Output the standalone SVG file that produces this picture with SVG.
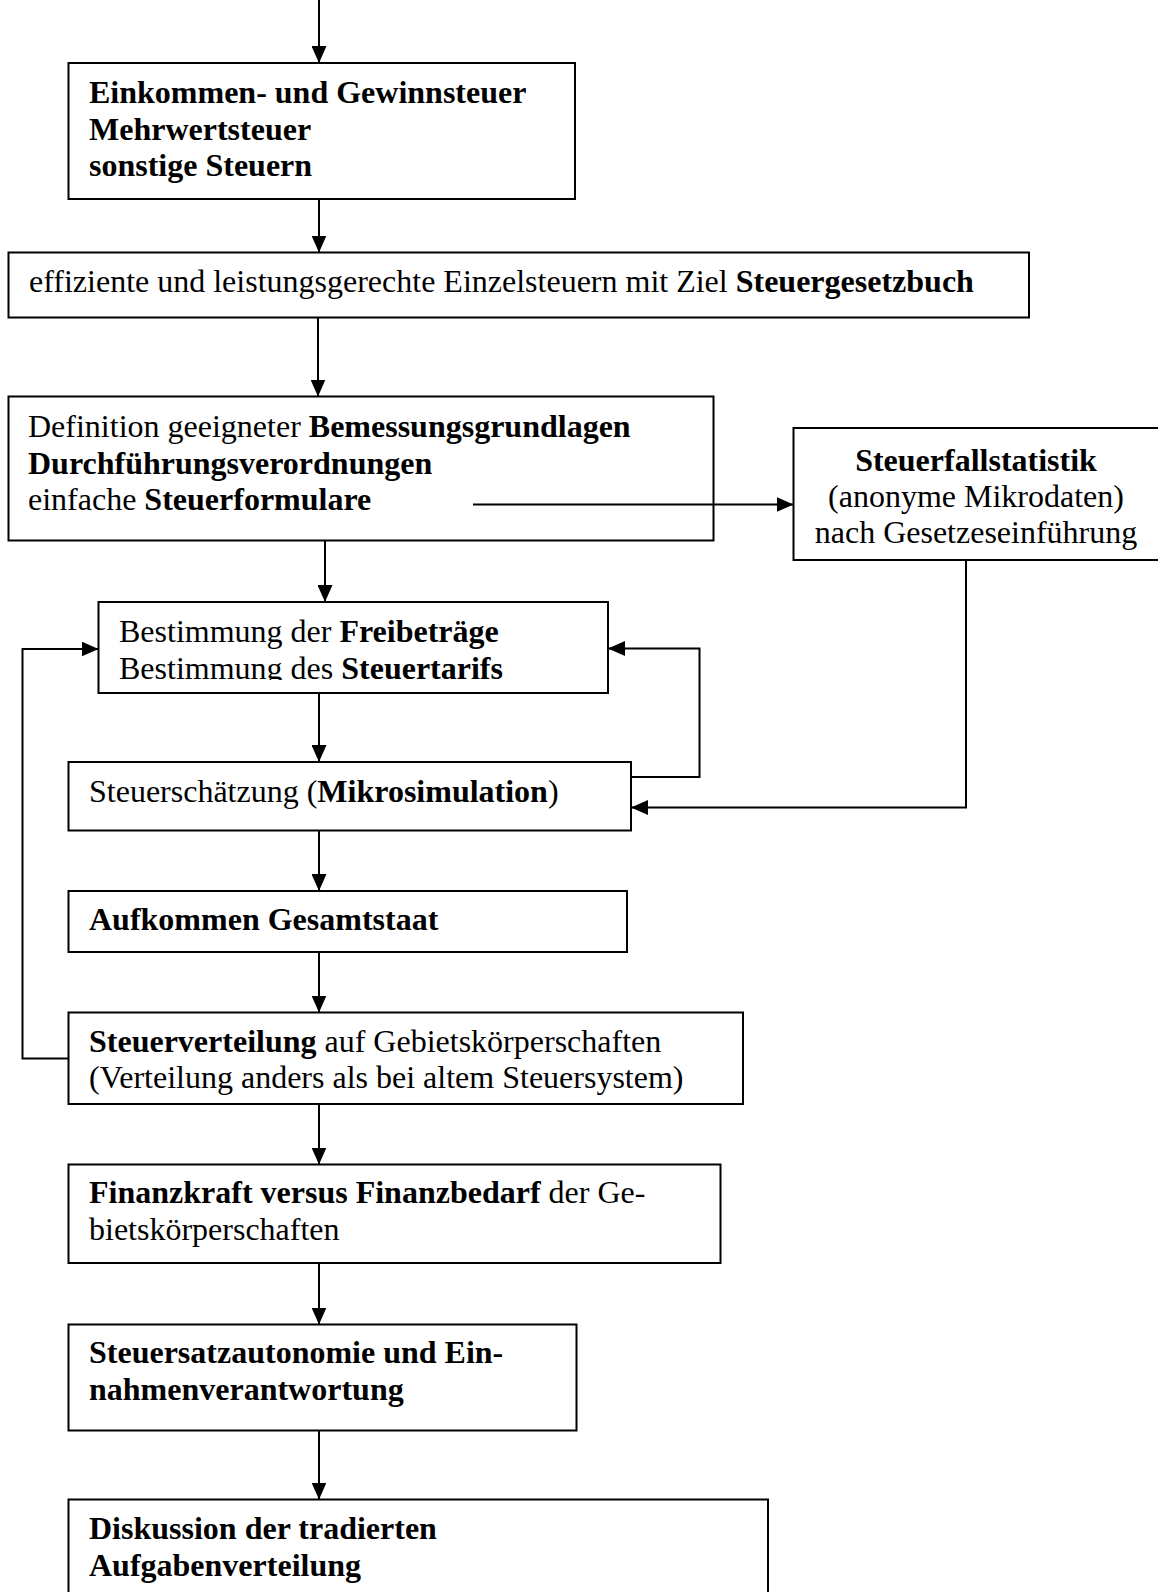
<svg xmlns="http://www.w3.org/2000/svg" width="1158" height="1592" viewBox="0 0 1158 1592">
<style>
.box{fill:none;stroke:#000;stroke-width:2}
.t{font-family:"Liberation Serif","Times New Roman",serif;font-size:32px;fill:#000}
.b{font-weight:bold}
.c{fill:none;stroke:#000;stroke-width:2}
</style>
<defs>
<marker id="ah" markerUnits="userSpaceOnUse" markerWidth="17" markerHeight="15" refX="17" refY="7.5" orient="auto">
<path d="M0,0 L17,7.5 L0,15 z" fill="#000"/>
</marker>
<clipPath id="clip4"><rect x="98" y="602" width="510" height="78"/></clipPath>
</defs>
<rect x="0" y="0" width="1158" height="1592" fill="#fff"/>
<g id="nodes">
<g id="n1">
<rect class="box" x="68.5" y="63" width="506.5" height="136"/>
<text class="t b" x="89" y="103">Einkommen- und Gewinnsteuer</text>
<text class="t b" x="89" y="139.5">Mehrwertsteuer</text>
<text class="t b" x="89" y="176">sonstige Steuern</text>
</g>
<g id="n2">
<rect class="box" x="8.5" y="252.5" width="1020.5" height="65"/>
<text class="t" x="29" y="291.5">effiziente und leistungsgerechte Einzelsteuern mit Ziel <tspan class="b">Steuergesetzbuch</tspan></text>
</g>
<g id="n3">
<rect class="box" x="8.5" y="396.5" width="705" height="144"/>
<text class="t" x="28" y="437">Definition geeigneter <tspan class="b">Bemessungsgrundlagen</tspan></text>
<text class="t b" x="28" y="473.5">Durchführungsverordnungen</text>
<text class="t" x="28" y="510">einfache <tspan class="b">Steuerformulare</tspan></text>
</g>
<g id="n3b">
<rect class="box" x="793.5" y="428" width="366" height="132"/>
<text class="t b" x="976" y="471" text-anchor="middle">Steuerfallstatistik</text>
<text class="t" x="976" y="507" text-anchor="middle">(anonyme Mikrodaten)</text>
<text class="t" x="976" y="543" text-anchor="middle">nach Gesetzeseinführung</text>
</g>
<g id="n4">
<rect class="box" x="98.5" y="602" width="509.5" height="91"/>
<g clip-path="url(#clip4)">
<text class="t" x="119" y="642">Bestimmung der <tspan class="b">Freibeträge</tspan></text>
<text class="t" x="119" y="678.5">Bestimmung des <tspan class="b">Steuertarifs</tspan></text>
</g>
</g>
<g id="n5">
<rect class="box" x="68.5" y="762" width="562.5" height="68.5"/>
<text class="t" x="89" y="802">Steuerschätzung (<tspan class="b">Mikrosimulation</tspan>)</text>
</g>
<g id="n6">
<rect class="box" x="68.5" y="891" width="558.5" height="61"/>
<text class="t b" x="89" y="930">Aufkommen Gesamtstaat</text>
</g>
<g id="n7">
<rect class="box" x="68.5" y="1012.5" width="674.5" height="91.5"/>
<text class="t" x="89" y="1051.5"><tspan class="b">Steuerverteilung</tspan> auf Gebietskörperschaften</text>
<text class="t" x="89" y="1088">(Verteilung anders als bei altem Steuersystem)</text>
</g>
<g id="n8">
<rect class="box" x="68.5" y="1164.5" width="652" height="98.5"/>
<text class="t" x="89" y="1202.5"><tspan class="b">Finanzkraft versus Finanzbedarf</tspan> der Ge-</text>
<text class="t" x="89" y="1239.5">bietskörperschaften</text>
</g>
<g id="n9">
<rect class="box" x="68.5" y="1324.5" width="508" height="106"/>
<text class="t b" x="89" y="1363">Steuersatzautonomie und Ein-</text>
<text class="t b" x="89" y="1400">nahmenverantwortung</text>
</g>
<g id="n10">
<rect class="box" x="68.5" y="1499.5" width="699.5" height="110"/>
<text class="t b" x="89" y="1539">Diskussion der tradierten</text>
<text class="t b" x="89" y="1576">Aufgabenverteilung</text>
</g>
</g>
<g id="connectors">
<line class="c" x1="319" y1="0" x2="319" y2="63" marker-end="url(#ah)"/>
<line class="c" x1="319" y1="199" x2="319" y2="252.5" marker-end="url(#ah)"/>
<line class="c" x1="318" y1="317.5" x2="318" y2="396.5" marker-end="url(#ah)"/>
<line class="c" x1="325" y1="540.5" x2="325" y2="602" marker-end="url(#ah)"/>
<line class="c" x1="319" y1="693" x2="319" y2="762" marker-end="url(#ah)"/>
<line class="c" x1="319" y1="830.5" x2="319" y2="891" marker-end="url(#ah)"/>
<line class="c" x1="319" y1="952" x2="319" y2="1012.5" marker-end="url(#ah)"/>
<line class="c" x1="319" y1="1104" x2="319" y2="1164.5" marker-end="url(#ah)"/>
<line class="c" x1="319" y1="1263" x2="319" y2="1324.5" marker-end="url(#ah)"/>
<line class="c" x1="319" y1="1430.5" x2="319" y2="1499.5" marker-end="url(#ah)"/>
<line class="c" x1="473" y1="504.5" x2="793.5" y2="504.5" stroke-width="2.5" marker-end="url(#ah)"/>
<polyline class="c" points="631,777 699.5,777 699.5,648.5 608,648.5" marker-end="url(#ah)"/>
<polyline class="c" points="966,560 966,807.5 631,807.5" stroke-width="2.5" marker-end="url(#ah)"/>
<polyline class="c" points="68.5,1058.5 22.5,1058.5 22.5,649 98.5,649" marker-end="url(#ah)"/>
</g>
</svg>
